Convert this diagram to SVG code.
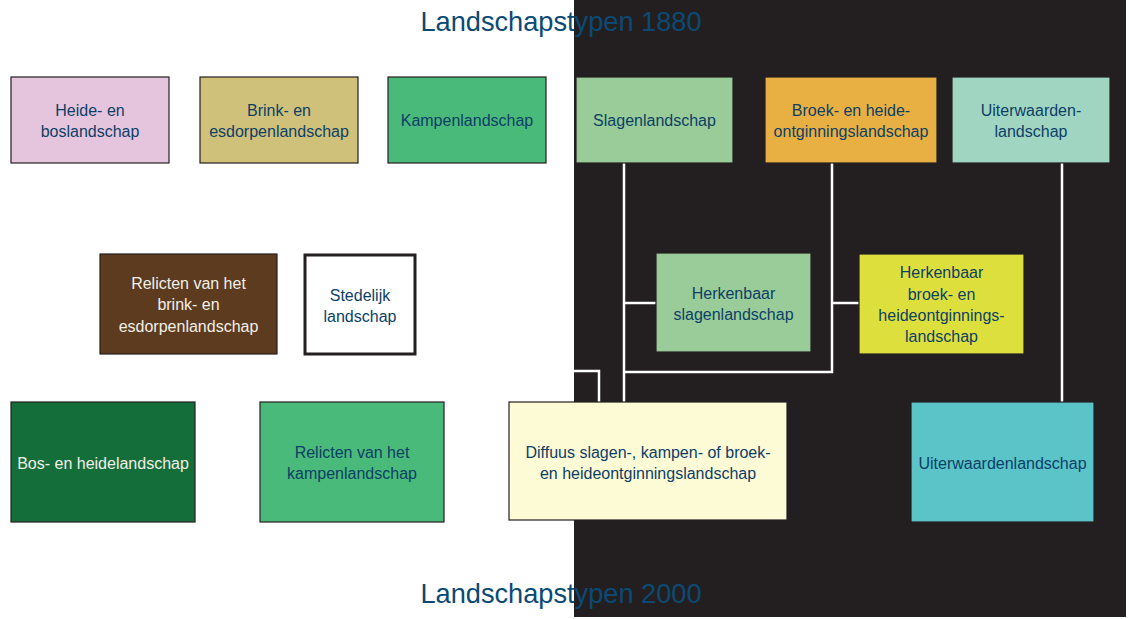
<svg xmlns="http://www.w3.org/2000/svg" width="1129" height="619" viewBox="0 0 1129 619">
<style>
.box{stroke:#231f20;stroke-width:1.2}
.t{font-family:"Liberation Sans",Arial,sans-serif;font-size:16px;fill:#0d3f66;text-anchor:middle}
.w{fill:#f2efe8}
.title{font-family:"Liberation Sans",Arial,sans-serif;font-size:27.2px;fill:#0b4a74;text-anchor:middle}
.c{fill:none;stroke:#ffffff;stroke-width:2.5}
</style>
<rect x="0" y="0" width="1129" height="619" fill="#ffffff"/>
<rect x="574" y="0" width="552" height="617" fill="#231f20"/>
<text class="title" x="561" y="31">Landschapstypen 1880</text>
<text class="title" x="561" y="603">Landschapstypen 2000</text>
<g id="connectors">
<path class="c" d="M89,163 V402"/>
<path class="c" d="M279,163 V210 H163 V254"/>
<path class="c" d="M467,163 V371 H599 V402"/>
<path class="c" d="M624,163 V402"/>
<path class="c" d="M624,303 H656"/>
<path class="c" d="M832,163 V372 H624"/>
<path class="c" d="M832,303 H859"/>
<path class="c" d="M1062,163 V402"/>
</g>
<g id="n-heide"><rect class="box" x="11" y="77" width="158" height="86" fill="#e5c5dd"/><text class="t" x="90" y="116">Heide- en</text><text class="t" x="90" y="137">boslandschap</text></g>
<g id="n-brink"><rect class="box" x="200" y="77" width="158" height="86" fill="#cfc07a"/><text class="t" x="279" y="116">Brink- en</text><text class="t" x="279" y="137">esdorpenlandschap</text></g>
<g id="n-kampen"><rect class="box" x="388" y="77" width="158" height="86" fill="#4aba7a"/><text class="t" x="467" y="126">Kampenlandschap</text></g>
<g id="n-slagen"><rect class="box" x="576" y="77" width="157" height="86" fill="#99cc98"/><text class="t" x="654.5" y="126">Slagenlandschap</text></g>
<g id="n-broek"><rect class="box" x="765" y="77" width="172" height="86" fill="#e8b043"/><text class="t" x="851" y="116">Broek- en heide-</text><text class="t" x="851" y="137">ontginningslandschap</text></g>
<g id="n-uiterwaarden1880"><rect class="box" x="952" y="77" width="158" height="86" fill="#a0d5c2"/><text class="t" x="1031" y="116">Uiterwaarden-</text><text class="t" x="1031" y="137">landschap</text></g>
<g id="n-relicten-brink"><rect class="box" x="100" y="254" width="177" height="100" fill="#5c3b1e"/><text class="t w" x="188.5" y="289">Relicten van het</text><text class="t w" x="188.5" y="310">brink- en</text><text class="t w" x="188.5" y="332">esdorpenlandschap</text></g>
<g id="n-stedelijk"><rect x="305" y="255" width="110" height="99" fill="#ffffff" stroke="#231f20" stroke-width="3"/><text class="t" x="360" y="301">Stedelijk</text><text class="t" x="360" y="322">landschap</text></g>
<g id="n-herk-slagen"><rect class="box" x="656" y="253" width="155" height="99" fill="#99cc98"/><text class="t" x="733.5" y="299">Herkenbaar</text><text class="t" x="733.5" y="320">slagenlandschap</text></g>
<g id="n-herk-broek"><rect class="box" x="859" y="254" width="165" height="100" fill="#dde03c"/><text class="t" x="941.5" y="278">Herkenbaar</text><text class="t" x="941.5" y="300">broek- en</text><text class="t" x="941.5" y="321">heideontginnings-</text><text class="t" x="941.5" y="342">landschap</text></g>
<g id="n-bos"><rect class="box" x="11" y="402" width="184" height="120" fill="#136e3a"/><text class="t w" x="103" y="469">Bos- en heidelandschap</text></g>
<g id="n-relicten-kampen"><rect class="box" x="260" y="402" width="184" height="120" fill="#4aba7a"/><text class="t" x="352" y="458">Relicten van het</text><text class="t" x="352" y="479">kampenlandschap</text></g>
<g id="n-diffuus"><rect class="box" x="509" y="402" width="278" height="118" fill="#fdfad6"/><text class="t" x="648" y="458">Diffuus slagen-, kampen- of broek-</text><text class="t" x="648" y="479">en heideontginningslandschap</text></g>
<g id="n-uiterwaarden2000"><rect class="box" x="911" y="402" width="183" height="120" fill="#5bc4c9"/><text class="t" x="1002.5" y="469">Uiterwaardenlandschap</text></g>
</svg>
